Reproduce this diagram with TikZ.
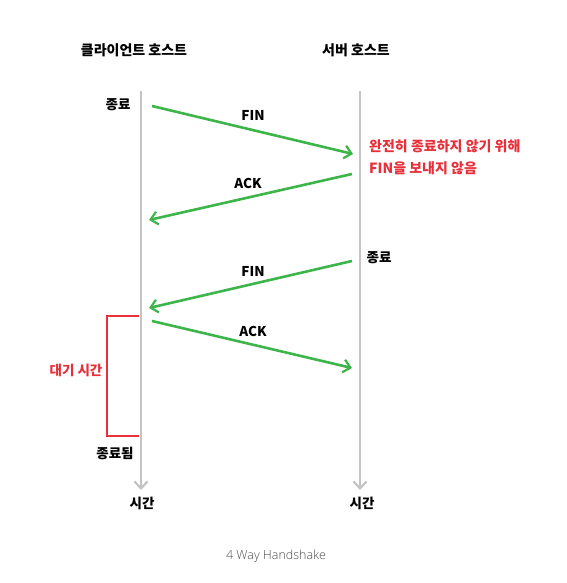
\documentclass[tikz,border=0pt]{standalone}
\usepackage{fontspec}
\setmainfont{Noto Sans CJK KR}
\newfontfamily\capfont{Open Sans Light}[BoldFont=Open Sans]
\usetikzlibrary{arrows.meta}
\definecolor{tlgreen}{HTML}{3DB54A}
\definecolor{tlred}{HTML}{E8303A}
\definecolor{tlgray}{HTML}{C4C4C4}
\begin{document}
\begin{tikzpicture}[x=1pt,y=-1pt,
  lbl/.style={font=\bfseries\fontsize{13.5}{15}\selectfont, inner sep=0pt},
  ttl/.style={font=\bfseries\fontsize{14}{16}\selectfont, inner sep=0pt},
  redlbl/.style={lbl, text=tlred},
  notelbl/.style={redlbl, font=\bfseries\fontsize{14}{16}\selectfont},
  msg/.style={draw=tlgreen, line width=2.6pt, -{Straight Barb[length=7pt,width=13pt,line width=2.2pt]}},
  timeline/.style={draw=tlgray, line width=2.6pt, -{Straight Barb[length=7pt,width=13pt,line width=2.2pt]}}]
\useasboundingbox (0,0) rectangle (566,583);
% titles
\node[ttl] (ct) at (134,50) {클라이언트 호스트};
\node[ttl] (st) at (356,50) {서버 호스트};
% timelines
\coordinate (c0) at (141,91);
\coordinate (c1) at (141,490);
\coordinate (s0) at (360,91);
\coordinate (s1) at (360,490);
\draw[timeline] (c0) -- (c1);
\draw[timeline] (s0) -- (s1);
\node[lbl] (ctime) at (142,503) {시간};
\node[lbl] (stime) at (362,503) {시간};
% messages
\coordinate (m1a) at (152,106); \coordinate (m1b) at (353,154);
\coordinate (m2a) at (352,174); \coordinate (m2b) at (149,220);
\coordinate (m3a) at (352,261); \coordinate (m3b) at (149,308);
\coordinate (m4a) at (152,321); \coordinate (m4b) at (352,368);
\draw[msg] (m1a) -- (m1b);
\draw[msg] (m2a) -- (m2b);
\draw[msg] (m3a) -- (m3b);
\draw[msg] (m4a) -- (m4b);
\node[lbl] (fin1) at (253,115) {FIN};
\node[lbl] (ack1) at (248,183) {ACK};
\node[lbl] (fin2) at (253,271) {FIN};
\node[lbl] (ack2) at (253,331) {ACK};
% side labels
\node[lbl] (end1) at (118,105) {종료};
\node[lbl] (end2) at (379,258) {종료};
\node[notelbl, anchor=west] (note1) at (369,146) {완전히 종료하지 않기 위해};
\node[notelbl, anchor=west] (note2) at (369,168) {FIN을 보내지 않음};
% waiting bracket
\coordinate (w0) at (139,316);
\coordinate (w1) at (139,436);
\draw[tlred, line width=2.4pt] (w0) -- (107,316) -- (107,436) -- (w1);
\node[redlbl] (wait) at (76,370) {대기 시간};
\node[lbl] (done) at (115,453) {종료됨};
% caption
\node[inner sep=0pt, text=black!70, font=\capfont\fontsize{12.5}{14}\selectfont] (cap) at (276,556) {4 Way Handshake};
\end{tikzpicture}
\end{document}
